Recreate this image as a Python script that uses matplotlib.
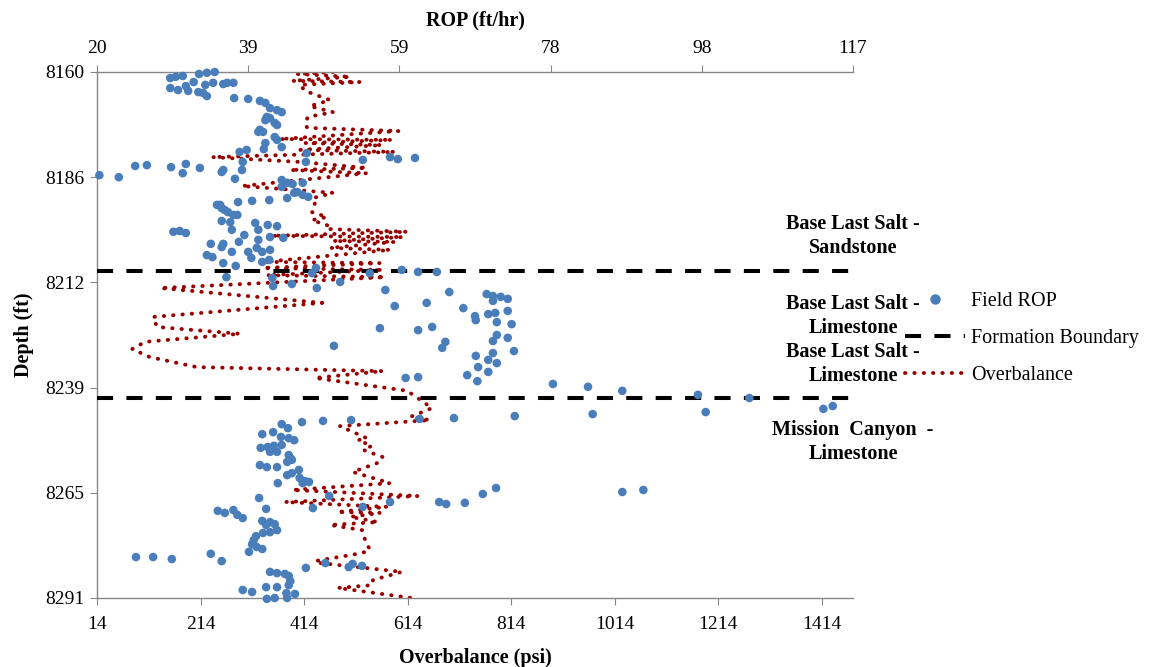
import matplotlib
matplotlib.use('Agg')
import matplotlib.pyplot as plt
from matplotlib.lines import Line2D
from matplotlib.ticker import FormatStrFormatter
import numpy as np

plt.rcParams['font.family'] = ['Liberation Serif', 'DejaVu Serif']

# ---------------- data ----------------
# Field ROP (ft/hr) vs depth (ft)
rop = [29.4, 30.1, 31.0, 33.1, 34.1, 35.1, 29.4, 30.4, 31.4, 31.7, 32.4, 33.0, 33.9, 33.6, 34.1, 34.9,
       36.2, 36.7, 37.5, 37.6, 39.4, 40.9, 41.6, 42.2, 43.1, 43.7, 41.8, 42.2, 41.6, 42.8, 43.1, 40.9,
       41.3, 40.7, 42.8, 43.1, 41.6, 43.7, 41.4, 38.3, 39.2, 38.7, 38.6, 36.2, 36.0, 37.7, 46.9, 46.8,
       54.1, 57.6, 58.6, 60.8, 24.9, 26.4, 29.5, 31.4, 31.0, 33.2, 20.3, 22.8, 43.7, 44.4, 45.1, 46.4,
       45.7, 46.4, 47.1, 43.7,
       35.4, 35.8, 36.0, 36.4, 36.8, 37.5, 38.0, 38.1, 39.9, 42.1, 44.4, 45.3, 36.0, 37.1, 37.3, 40.3,
       41.9, 43.1, 40.7, 42.2, 43.9, 38.9, 38.2, 40.7, 36.2, 36.0, 34.6, 29.8, 30.6, 31.4, 34.1, 34.8,
       37.3, 39.4, 40.5, 41.2, 42.2, 39.8, 36.2, 37.8, 41.2, 42.1, 36.6, 42.5, 42.6, 45.0, 48.1, 47.6,
       48.2, 51.2, 55.0, 59.1, 61.2, 63.6, 57.0, 58.2, 62.3, 65.2, 67.0, 56.3, 61.2, 63.0,
       68.5, 68.6, 70.0, 70.8, 70.8, 71.8, 72.7, 72.7, 70.2, 71.1, 71.3, 73.2, 64.7, 64.3, 71.3, 70.8,
       72.7, 73.5, 68.6, 70.8, 70.2, 71.3, 68.9, 67.5, 68.8, 70.2, 59.6, 61.2, 50.4,
       78.5, 83.0, 87.4, 97.1, 103.7, 113.2, 114.4, 98.1, 83.6, 73.6, 65.8, 61.4, 52.6, 49.0, 46.3,
       43.7, 44.5, 41.2, 42.6, 43.6, 44.6, 45.3, 43.7, 42.7, 41.9, 41.0, 42.2, 43.1, 44.6, 44.8, 45.0,
       44.4, 40.9, 41.8, 43.1, 45.9, 44.4, 45.0, 46.0, 46.7, 47.2, 43.2, 46.4,
       49.8, 47.7, 54.1, 57.6, 63.9, 64.8, 67.2, 69.5, 71.2, 87.4, 90.1, 40.8, 41.7, 35.5, 36.4, 37.5,
       38.0, 38.7, 41.2, 42.2, 42.8, 41.7, 43.1, 42.2, 41.3, 40.4, 40.1, 39.9, 40.5, 41.2, 39.5, 25.0,
       27.2, 29.6, 34.6, 36.0, 49.3, 46.8, 52.3, 52.8, 54.0, 42.2, 43.1, 44.1, 44.6, 44.8, 44.6, 41.7,
       43.1, 38.7, 39.9, 41.8, 42.8, 44.3, 44.4, 45.4]
rop_depth = [8161.5, 8161.2, 8161.0, 8160.5, 8160.2, 8160.0, 8164.0, 8164.5, 8163.5, 8164.7, 8162.5,
             8165.0, 8163.2, 8165.2, 8166.0, 8162.7, 8163.0, 8162.7, 8162.7, 8166.5, 8166.7, 8167.2,
             8167.7, 8169.0, 8169.5, 8170.0, 8171.2, 8171.5, 8172.0, 8172.7, 8173.2, 8174.4, 8174.9,
             8174.9, 8176.2, 8176.9, 8177.7, 8178.7, 8179.2, 8179.9, 8179.4, 8182.4, 8184.4, 8184.4,
             8184.9, 8186.6, 8180.2, 8182.4, 8181.9, 8181.2, 8181.7, 8181.4, 8183.4, 8183.2, 8183.7,
             8182.9, 8185.2, 8183.9, 8185.7, 8186.2, 8186.9, 8187.6, 8187.9, 8187.6, 8189.9, 8190.6,
             8191.1, 8188.6,
             8193.1, 8193.1, 8193.9, 8194.4, 8194.9, 8195.6, 8195.6, 8192.4, 8192.1, 8191.9, 8191.4,
             8190.1, 8197.1, 8197.4, 8199.3, 8197.6, 8198.1, 8198.4, 8199.3, 8201.1, 8201.3, 8200.6,
             8202.3, 8201.8, 8202.8, 8203.6, 8202.8, 8199.8, 8199.6, 8200.1, 8205.6, 8206.1, 8204.8,
             8204.8, 8203.8, 8204.8, 8204.3, 8206.3, 8207.6, 8208.3, 8207.3, 8206.8, 8211.1, 8211.3,
             8213.3, 8212.8, 8208.8, 8210.1, 8213.8, 8212.3, 8210.1, 8209.3, 8209.8, 8209.8, 8214.3,
             8218.3, 8217.5, 8214.8, 8218.8, 8223.8, 8224.3, 8223.5,
             8220.8, 8221.8, 8215.3, 8215.8, 8217.0, 8216.0, 8216.5, 8219.5, 8220.3, 8220.0, 8222.3,
             8222.8, 8227.2, 8228.7, 8225.5, 8227.0, 8226.2, 8229.5, 8230.7, 8230.0, 8231.7, 8232.5,
             8233.5, 8235.5, 8237.0, 8234.7, 8236.2, 8236.0, 8228.2,
             8237.7, 8238.4, 8239.4, 8240.4, 8241.2, 8243.9, 8243.2, 8244.7, 8245.2, 8245.7, 8246.2,
             8246.4, 8246.7, 8246.9, 8247.2,
             8247.7, 8248.7, 8250.2, 8249.7, 8250.9, 8251.2, 8251.7, 8252.9, 8253.1, 8253.4, 8253.6,
             8254.6, 8254.6, 8255.4, 8256.1, 8256.6, 8257.1, 8257.9, 8258.4, 8258.4, 8259.1, 8260.4,
             8259.9, 8261.1, 8261.9, 8262.1, 8262.4, 8262.4,
             8265.6, 8268.6, 8268.3, 8267.1, 8267.1, 8267.6, 8267.3, 8265.1, 8263.6, 8264.6, 8264.1,
             8266.1, 8268.8, 8269.3, 8269.8, 8269.1, 8270.3, 8271.1, 8271.8, 8272.1, 8272.6, 8272.8,
             8274.1, 8274.6, 8274.8, 8275.6, 8276.6, 8277.6, 8278.3, 8278.8, 8279.5, 8280.8, 8280.8,
             8281.3, 8280.0, 8281.8, 8282.3, 8283.5, 8283.3, 8282.5, 8283.0, 8284.5, 8284.8, 8285.0,
             8285.5, 8286.8, 8287.8, 8288.3, 8288.3, 8289.0, 8289.5, 8291.2, 8291.0, 8289.8, 8291.0,
             8290.0]

# Overbalance (psi) vs depth (ft)
overbalance = [470, 400, 503, 391, 522, 406, 416, 464, 425, 470, 421, 416, 420, 597, 367, 584, 416,
               564, 406, 589, 236, 406, 535, 387, 535, 294, 470, 431, 435, 429, 458, 429, 464, 460,
               613, 352, 605, 470, 589, 464, 580, 338, 560, 335, 566, 342, 570, 136, 449, 122, 130,
               290, 107, 82, 116, 207, 566, 435, 613, 661, 619, 657, 483, 535, 518, 545, 528, 566,
               555, 508, 580, 391, 634, 377, 574, 478, 561, 503, 557, 464, 526, 532, 541, 526, 435,
               445, 603, 547, 545, 479, 622]
ob_depth = [8160.0, 8160.5, 8161.2, 8162.2, 8162.5, 8163.2, 8164.7, 8167.0, 8168.5, 8170.0, 8171.2,
            8172.9, 8173.9, 8174.7, 8176.7, 8176.9, 8177.7, 8178.2, 8179.4, 8179.9, 8181.2, 8182.4,
            8183.9, 8184.4, 8185.2, 8188.4, 8190.1, 8191.4, 8192.6, 8194.9, 8196.1, 8196.9, 8198.4,
            8199.1, 8199.8, 8200.8, 8201.1, 8202.1, 8202.3, 8203.8, 8204.3, 8207.3, 8207.6, 8208.8,
            8209.3, 8210.6, 8211.1, 8213.8, 8217.5, 8221.0, 8223.5, 8225.2, 8227.2, 8229.0, 8231.0,
            8233.5, 8234.5, 8236.2, 8239.4, 8243.7, 8245.9, 8246.7, 8248.2, 8251.2, 8251.7, 8253.1,
            8254.1, 8255.9, 8257.4, 8259.6, 8262.4, 8264.1, 8265.6, 8267.1, 8268.3, 8269.6, 8269.8,
            8270.8, 8272.1, 8272.8, 8274.1, 8276.6, 8279.0, 8279.8, 8281.8, 8282.3, 8284.5, 8286.5,
            8287.8, 8288.5, 8291.0]

boundary_depths = [8209.6, 8241.2]

formation_labels = ["Base Last Salt -\nSandstone", "Base Last Salt -\nLimestone",
                    "Base Last Salt -\nLimestone", "Mission  Canyon  -\nLimestone"]
formation_label_depths = [8200.9, 8220.8, 8232.7, 8252.2]

legend_labels = ["Field ROP", "Formation Boundary", "Overbalance"]

ob_ticks = list(range(14, 1415, 200))
rop_ticks = list(np.linspace(20, 117, 6))
depth_ticks = list(np.linspace(8160, 8291, 6))

# ---------------- style ----------------
BLUE = '#4A7EBB'
RED = '#990000'
GREY = '#868686'
FS = 14.5

W, H = 1151, 667
fig = plt.figure(figsize=(W / 100, H / 100), dpi=100)
ax = fig.add_axes([97 / W, 1 - 598 / H, 756 / W, 526 / H])
ax2 = ax.twiny()

dot_style = (0, (0.1, 2.3))
dash_style = (0, (4, 3.3))

ax.plot(overbalance, ob_depth, color=RED, lw=2.8, linestyle=dot_style,
        dash_capstyle='round', zorder=2)
for d in boundary_depths:
    ax.axhline(d, color='black', lw=2.9, linestyle=dash_style, zorder=3)

ax2.scatter(rop, rop_depth, s=38, color=BLUE, edgecolors='none', zorder=4, clip_on=False)

ax.set_xlim(14, 1474)
ax.set_xticks(ob_ticks)
ax2.set_xlim(20, 117)
ax2.set_xticks(rop_ticks)
ax2.xaxis.set_major_formatter(FormatStrFormatter('%.0f'))
ax.set_ylim(8291, 8160)
ax.set_yticks(depth_ticks)
ax.yaxis.set_major_formatter(FormatStrFormatter('%.0f'))

for a in (ax, ax2):
    for s in a.spines.values():
        s.set_color(GREY)
        s.set_linewidth(1.0)
    a.spines['right'].set_visible(False)
ax.spines['top'].set_visible(False)
ax2.spines['bottom'].set_visible(False)
ax2.spines['left'].set_visible(False)

ax.tick_params(axis='y', direction='out', length=5, color=GREY, labelsize=FS - 0.5, pad=4)
ax.tick_params(axis='x', direction='out', length=5, color=GREY, labelsize=FS - 0.5, pad=8)
ax2.tick_params(axis='x', direction='out', length=5, color=GREY, labelsize=FS - 0.5, pad=6)

ax.set_xlabel('Overbalance (psi)', fontsize=FS, fontweight='bold', labelpad=11)
ax2.set_xlabel('ROP (ft/hr)', fontsize=FS, fontweight='bold', labelpad=10)
ax.set_ylabel('Depth (ft)', fontsize=FS, fontweight='bold', labelpad=8)

for txt, d in zip(formation_labels, formation_label_depths):
    ax.text(1.0, d, txt, transform=ax.get_yaxis_transform(), ha='center', va='center',
            fontsize=FS, fontweight='bold', linespacing=1.25)

handles = [Line2D([], [], marker='o', ls='none', color=BLUE, markersize=7.5, markeredgewidth=0),
           Line2D([], [], color='black', lw=2.9, linestyle=dash_style),
           Line2D([], [], color=RED, lw=2.8, linestyle=dot_style, dash_capstyle='round')]
fig.legend(handles, legend_labels, loc='upper left', bbox_to_anchor=(905 / W, 1 - 292 / H),
           frameon=False, fontsize=FS, handlelength=3.0, handletextpad=0.3,
           labelspacing=0.88, borderaxespad=0, borderpad=0)

fig.savefig('out.png', dpi=100)
